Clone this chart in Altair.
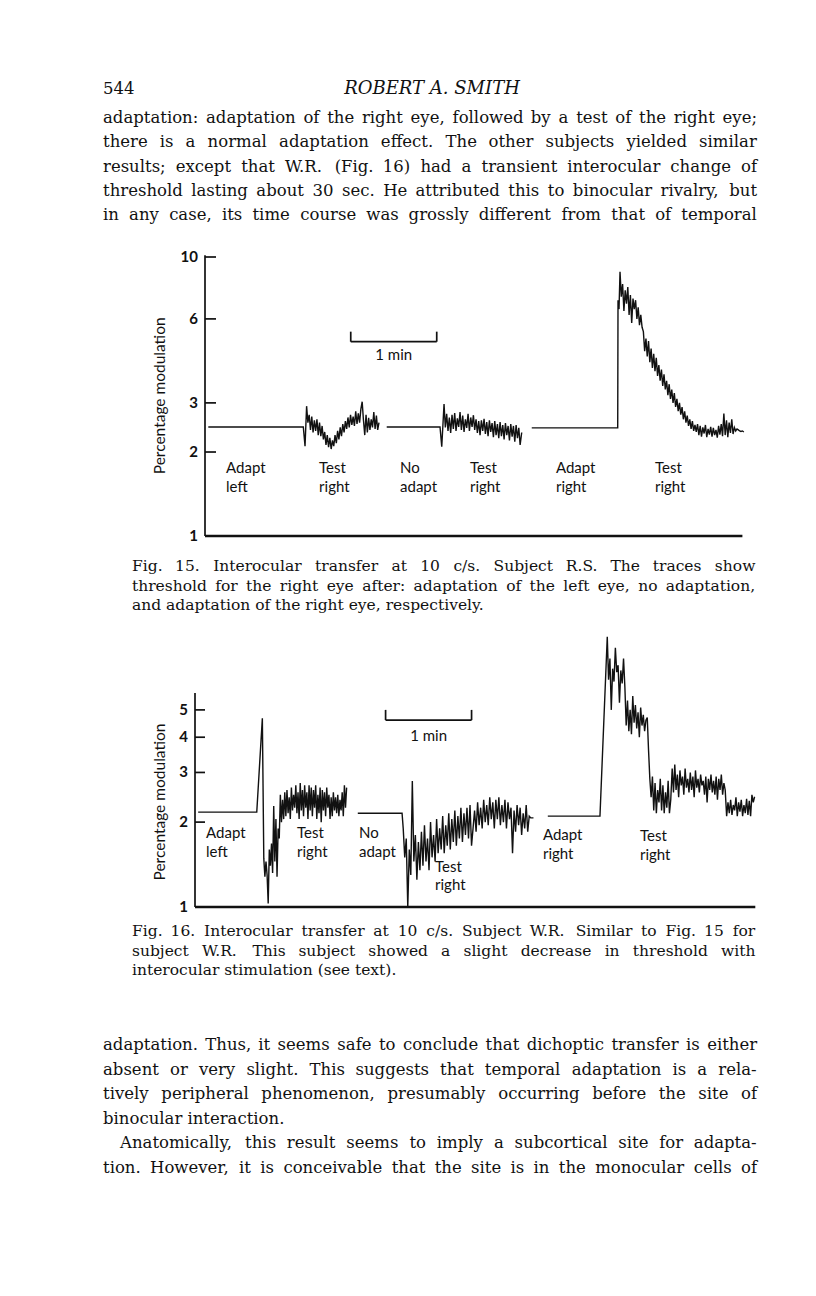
import altair as alt
import numpy as np
import pandas as pd

# ---------------- page text ----------------
PAGE_NUMBER = "544"
RUNNING_HEAD = "ROBERT A. SMITH"
TOP_LINES = [
    "adaptation: adaptation of the right eye, followed by a test of the right eye;",
    "there is a normal adaptation effect. The other subjects yielded similar",
    "results; except that W.R. (Fig. 16) had a transient interocular change of",
    "threshold lasting about 30 sec. He attributed this to binocular rivalry, but",
    "in any case, its time course was grossly different from that of temporal",
]
CAPTION_15 = [
    "Fig. 15. Interocular transfer at 10 c/s. Subject R.S. The traces show",
    "threshold for the right eye after: adaptation of the left eye, no adaptation,",
    "and adaptation of the right eye, respectively.",
]
CAPTION_16 = [
    "Fig. 16. Interocular transfer at 10 c/s. Subject W.R. Similar to Fig. 15 for",
    "subject W.R. This subject showed a slight decrease in threshold with",
    "interocular stimulation (see text).",
]
BOTTOM_LINES = [
    "adaptation. Thus, it seems safe to conclude that dichoptic transfer is either",
    "absent or very slight. This suggests that temporal adaptation is a rela-",
    "tively peripheral phenomenon, presumably occurring before the site of",
    "binocular interaction.",
]
PARA2_LINES = [
    "Anatomically, this result seems to imply a subcortical site for adapta-",
    "tion. However, it is conceivable that the site is in the monocular cells of",
]

Y_TITLE = "Percentage modulation"

# ---------------- Fig. 15 (subject R.S.) : time in s, threshold in % ----------------
F15_TICKS = [1, 2, 3, 6, 10]
F15_TICK_LABELS = ["1", "2", "3", "6", "10"]
F15_A_TEST = [2.55, 2.72, 2.40, 2.68, 2.35, 2.60, 2.38, 2.62, 2.30, 2.55, 2.28, 2.48, 2.22, 2.36,
              2.12, 2.30, 2.08, 2.25, 2.05, 2.20, 2.10, 2.30, 2.15, 2.38, 2.22, 2.45, 2.28, 2.52,
              2.35, 2.58, 2.42, 2.66, 2.45, 2.72, 2.50, 2.68, 2.48, 2.80, 2.52, 2.75, 2.55, 2.85,
              3.03, 2.60, 2.30, 2.72, 2.35, 2.65, 2.40, 2.62, 2.45, 2.78, 2.42, 2.70, 2.40, 2.55]
F15_B_TEST1 = [2.45, 2.74, 2.38, 2.66, 2.34, 2.72, 2.42, 2.76, 2.38, 2.64, 2.46, 2.78, 2.40,
               2.70, 2.36, 2.62, 2.44, 2.74, 2.38, 2.66, 2.46, 2.71]
F15_B_TEST2 = [2.40, 2.62, 2.34, 2.58, 2.30, 2.60, 2.38, 2.63, 2.32, 2.56, 2.28, 2.60, 2.36,
               2.54, 2.26, 2.58, 2.30, 2.52, 2.24, 2.56, 2.28, 2.50, 2.22, 2.54, 2.30, 2.48,
               2.20, 2.52, 2.27, 2.48, 2.18, 2.50, 2.24, 2.44, 2.12]
F15_C_PEAK = [7.2, 8.0, 6.4, 7.6, 6.8, 7.8, 6.2, 7.3, 5.8, 7.1, 6.5, 7.0, 6.0, 6.6, 5.7, 6.2, 5.6]
F15_C_DECAY = [5.4, 4.6, 5.1, 4.4, 5.0, 4.2, 4.7, 4.0, 4.5, 3.9, 4.35, 3.75, 4.1, 3.6, 3.95, 3.45,
               3.8, 3.35, 3.6, 3.2, 3.5, 3.1, 3.35, 3.0, 3.25, 2.9, 3.1, 2.8, 3.0, 2.72, 2.9, 2.62,
               2.8, 2.55, 2.7, 2.48, 2.62, 2.42, 2.58, 2.38, 2.5, 2.36]
F15_C_TAIL = [2.52, 2.30, 2.48, 2.27, 2.45, 2.33, 2.50, 2.26, 2.42, 2.31, 2.46, 2.27, 2.44, 2.30,
              2.40, 2.25, 2.48, 2.31, 2.52, 2.28, 2.75, 2.30, 2.60, 2.26, 2.55, 2.34, 2.62, 2.32,
              2.45, 2.38, 2.42, 2.40, 2.38, 2.37]
F15_PIECES = [
    [(2.3, 2.46), (68.6, 2.46), (69.8, 2.10), (70.9, 2.92), ("run", 71.8, 121.4, F15_A_TEST)],
    [(126.8, 2.46), (164.0, 2.46), (165.2, 2.09), (166.8, 2.97),
     ("run", 167.7, 187.3, F15_B_TEST1), ("run", 188.2, 219.9, F15_B_TEST2), (221.0, 2.35)],
    [(228.0, 2.44), (288.0, 2.44), (288.2, 7.0), (288.9, 6.5), (289.6, 8.86),
     ("run", 290.5, 305.0, F15_C_PEAK), ("run", 305.9, 342.8, F15_C_DECAY),
     ("run", 343.7, 374.0, F15_C_TAIL), (375.0, 2.38), (376.0, 2.36)],
]
F15_CONDITIONS = [("Adapt", "left", 14.7), ("Test", "right", 79.6), ("No", "adapt", 136.1),
                  ("Test", "right", 184.9), ("Adapt", "right", 244.9), ("Test", "right", 314.0)]
F15_LABEL_LEVELS = [1.753, 1.498]

# ---------------- Fig. 16 (subject W.R.) ----------------
F16_TICKS = [1, 2, 3, 4, 5]
F16_TICK_LABELS = ["1", "2", "3", "4", "5"]
F16_A_TEST = [1.49, 1.28, 1.45, 1.30, 1.03, 1.60, 1.40, 1.68, 1.32, 2.28, 1.45, 2.05, 1.28, 1.90,
              1.75, 2.50, 2.00, 2.40, 2.05, 2.55, 2.10, 2.60, 2.15, 2.45, 2.05, 2.65, 2.20, 2.50,
              2.25, 2.70, 2.15, 2.55, 2.05, 2.75, 2.20, 2.60, 2.10, 2.70, 2.25, 2.55, 2.05, 2.70,
              2.20, 2.65, 2.10, 2.60, 2.25, 2.70, 2.05, 2.50, 2.15, 2.65, 2.00, 2.60, 2.20, 2.55,
              2.10, 2.65, 2.25, 2.50, 2.05, 2.45, 2.10, 2.55, 2.20, 2.45, 2.15, 2.50, 2.10, 2.40,
              2.20, 2.55, 2.10, 2.70, 2.25, 2.65]
F16_B_TEST = [1.90, 1.50, 1.75, 1.00, 1.60, 1.30, 2.80, 1.45, 1.80, 1.25, 1.70, 1.35, 1.85, 1.40,
              1.95, 1.45, 1.75, 1.35, 2.00, 1.50, 1.80, 1.45, 2.05, 1.55, 1.90, 1.60, 2.10, 1.55,
              1.95, 1.65, 2.15, 1.60, 2.05, 1.70, 2.20, 1.65, 2.10, 1.75, 2.25, 1.70, 2.15, 1.80,
              2.25, 1.75, 2.30, 1.65, 1.90, 2.20, 1.85, 2.35, 1.95, 2.25, 1.90, 2.40, 2.00, 2.30,
              1.95, 2.45, 2.05, 2.35, 1.90, 2.40, 2.05, 2.45, 1.95, 2.30, 2.00, 2.40, 1.90, 2.35,
              2.05, 2.25, 1.55, 2.20, 1.85, 2.30, 1.95, 2.25, 1.80, 2.15, 1.90, 2.30, 1.85, 2.10, 2.07]
F16_C_PEAK = [6.4, 7.6, 5.0, 7.0, 6.3, 8.3, 6.8, 7.2, 5.3, 6.9, 6.2, 7.6, 6.0]
F16_C_MID = [4.4, 5.4, 4.2, 5.0, 4.1, 5.6, 4.5, 5.2, 4.3, 4.9, 4.0, 5.1, 4.4, 4.8, 4.2, 4.6, 4.7]
F16_C_LOW = [2.45, 2.90, 2.20, 2.75, 2.15, 2.60, 2.35, 2.85, 2.20, 2.70, 2.15, 2.55, 2.25, 2.80,
             2.15, 2.40]
F16_C_PLATEAU = [3.10, 2.55, 3.20, 2.60, 2.95, 2.45, 3.05, 2.70, 2.90, 2.50, 3.10, 2.65, 2.85,
                 2.55, 3.00, 2.60, 2.90, 2.45, 3.05, 2.65, 2.85, 2.55, 2.95, 2.70, 2.80, 2.50,
                 2.90, 2.35, 2.85, 2.60, 2.95, 2.55, 2.80, 2.50, 2.90, 2.40, 2.85, 2.60, 2.95,
                 2.50, 2.75, 2.60]
F16_C_END = [2.10, 2.35, 2.15, 2.40, 2.12, 2.30, 2.20, 2.45, 2.10, 2.35, 2.18, 2.40, 2.10, 2.30,
             2.15, 2.42, 2.12, 2.38, 2.10, 2.50, 2.35, 2.46]
F16_PIECES = [
    [(2.2, 2.17), (43.1, 2.17), (47.0, 4.67), ("run", 48.0, 105.8, F16_A_TEST)],
    [(113.6, 2.15), (144.5, 2.15), ("run", 145.3, 234.3, F16_B_TEST), (236.2, 2.07)],
    [(246.2, 2.10), (282.6, 2.10), (287.7, 9.09), ("run", 288.6, 300.0, F16_C_PEAK),
     ("run", 300.9, 315.6, F16_C_MID), (316.5, 3.6), (317.4, 2.85),
     ("run", 318.3, 332.0, F16_C_LOW), ("run", 333.0, 370.0, F16_C_PLATEAU),
     ("run", 371.0, 390.5, F16_C_END)],
]
F16_LABELS = [("Adapt", 7.7, 1.83), ("left", 7.7, 1.567), ("Test", 71.2, 1.83), ("right", 71.2, 1.567),
              ("No", 114.4, 1.83), ("adapt", 114.4, 1.567), ("Test", 167.5, 1.386),
              ("right", 167.5, 1.197), ("Adapt", 242.8, 1.80), ("right", 242.8, 1.54),
              ("Test", 310.5, 1.785), ("right", 310.5, 1.528)]


def build_trace(pieces):
    rows = []
    for p, items in enumerate(pieces):
        for it in items:
            if it[0] == "run":
                _, t0, t1, vals = it
                for t, v in zip(np.linspace(t0, t1, len(vals)), vals):
                    rows.append((p, t, v))
            else:
                rows.append((p, it[0], it[1]))
    df = pd.DataFrame(rows, columns=["piece", "t", "v"])
    df["i"] = range(len(df))
    return df


SERIF = "DejaVu Serif"
SANS = "Lato"

# approximate DejaVu Serif advance widths (1/2048 em), used only to justify lines
_W = {" ": 651, "a": 1221, "b": 1311, "c": 1147, "d": 1311, "e": 1212, "f": 743, "g": 1311,
      "h": 1315, "i": 655, "j": 637, "k": 1249, "l": 655, "m": 1970, "n": 1315, "o": 1233,
      "p": 1311, "q": 1311, "r": 977, "s": 1051, "t": 819, "u": 1315, "v": 1163, "w": 1704,
      "x": 1161, "y": 1163, "z": 1069, ".": 651, ",": 651, ":": 690, ";": 690, "(": 799,
      ")": 799, "-": 739, "/": 690, "'": 563}
_CAP = {"A": 1479, "F": 1300, "H": 1741, "I": 823, "R": 1500, "S": 1325, "T": 1300, "W": 2100}


def _width(word, size):
    tot = 0
    for ch in word:
        if ch.isdigit():
            tot += 1303
        elif ch in _CAP:
            tot += _CAP[ch]
        else:
            tot += _W.get(ch, 1200)
    return tot / 2048.0 * size


def justified(lines, x0, x1, y0, lh, size, last_justified=False, first_indent=0):
    rows = []
    for li, line in enumerate(lines):
        words = line.split(" ")
        left = x0 + (first_indent if li == 0 else 0)
        y = y0 + li * lh
        widths = [_width(w, size) for w in words]
        justify = (li < len(lines) - 1) or last_justified
        if justify and len(words) > 1:
            gap = (x1 - left - sum(widths)) / (len(words) - 1)
        else:
            gap = _width(" ", size)
        x = left
        for w, wd in zip(words, widths):
            rows.append({"x": x, "y": y, "w": w})
            x += wd + gap
    return rows


def text_chart(rows, size, italic=False, align="left"):
    return alt.Chart(pd.DataFrame(rows)).mark_text(
        font=SERIF, fontSize=size, align=align, baseline="alphabetic", color="#111",
        fontStyle="italic" if italic else "normal",
    ).encode(x=alt.X("x:Q", scale=None), y=alt.Y("y:Q", scale=None), text="w:N")


def figure(trace, xs, ys, t_end, y_top, ticks, tick_labels, tick_len, labels,
           bar, title_pos):
    X = lambda f: alt.X(f, scale=xs, axis=None)
    Y = lambda f: alt.Y(f, scale=ys, axis=None)
    line = alt.Chart(trace).mark_line(color="#111", strokeWidth=1.4).encode(
        x=X("t:Q"), y=Y("v:Q"), detail="piece:N", order="i:Q")
    yaxis = alt.Chart(pd.DataFrame({"t": [0], "v0": [1], "v1": [y_top]})).mark_rule(
        color="#111", strokeWidth=1.7).encode(x=X("t:Q"), y=Y("v0:Q"), y2="v1:Q")
    xaxis = alt.Chart(pd.DataFrame({"t0": [0], "t1": [t_end], "v": [1]})).mark_rule(
        color="#111", strokeWidth=2.3).encode(x=X("t0:Q"), x2="t1:Q", y=Y("v:Q"))
    tdf = pd.DataFrame({"t": [0] * len(ticks), "v": ticks, "lab": tick_labels})
    tk = alt.Chart(tdf).mark_rule(color="#111", strokeWidth=1.7, x2Offset=tick_len).encode(
        x=X("t:Q"), x2="t:Q", y=Y("v:Q"))
    tl = alt.Chart(tdf).mark_text(font=SANS, fontSize=15, fontWeight="bold", align="right",
                                  baseline="middle", dx=-7, color="#111").encode(
        x=X("t:Q"), y=Y("v:Q"), text="lab:N")
    ldf = pd.DataFrame(labels, columns=["txt", "t", "v"])
    lab = alt.Chart(ldf).mark_text(font=SANS, fontSize=15, align="left", baseline="middle",
                                   color="#111").encode(x=X("t:Q"), y=Y("v:Q"), text="txt:N")
    b0, b1, bv, btop, bt, btv = bar
    bar_h = alt.Chart(pd.DataFrame({"t0": [b0], "t1": [b1], "v": [bv]})).mark_rule(
        color="#111", strokeWidth=1.7).encode(x=X("t0:Q"), x2="t1:Q", y=Y("v:Q"))
    bar_e = alt.Chart(pd.DataFrame({"t": [b0, b1], "v0": [bv, bv], "v1": [btop, btop]})).mark_rule(
        color="#111", strokeWidth=1.7).encode(x=X("t:Q"), y=Y("v0:Q"), y2="v1:Q")
    bar_t = alt.Chart(pd.DataFrame({"t": [bt], "v": [btv], "txt": ["1 min"]})).mark_text(
        font=SANS, fontSize=15, align="center", baseline="middle", color="#111").encode(
        x=X("t:Q"), y=Y("v:Q"), text="txt:N")
    ttl = alt.Chart(pd.DataFrame({"t": [title_pos[0]], "v": [title_pos[1]], "txt": [Y_TITLE]})).mark_text(
        font=SANS, fontSize=15.5, angle=270, align="center", baseline="middle", color="#111").encode(
        x=X("t:Q"), y=Y("v:Q"), text="txt:N")
    return alt.layer(line, yaxis, xaxis, tk, tl, lab, bar_h, bar_e, bar_t, ttl)


f15_labels = []
for top_w, bottom_w, t in F15_CONDITIONS:
    f15_labels.append((top_w, t, F15_LABEL_LEVELS[0]))
    f15_labels.append((bottom_w, t, F15_LABEL_LEVELS[1]))

fig15 = figure(
    build_trace(F15_PIECES),
    alt.Scale(domain=[0, 375], range=[197, 734.4], nice=False, zero=False),
    alt.Scale(type="log", domain=[1, 10], range=[528, 249], nice=False),
    375, 10.15, F15_TICKS, F15_TICK_LABELS, 11, f15_labels,
    (101.7, 161.7, 4.97, 5.40, 131.7, 4.45), (-31.4, 3.18))

fig16 = figure(
    build_trace(F16_PIECES),
    alt.Scale(domain=[0, 391], range=[187, 747.3], nice=False, zero=False),
    alt.Scale(type="log", domain=[1, 10], range=[899, 617], nice=False),
    391, 5.74, F16_TICKS, F16_TICK_LABELS, 10, F16_LABELS,
    (133.0, 193.0, 4.60, 5.00, 163.0, 4.04), (-24.1, 2.356))

BODY = 16.5
CAP = 15.5
page_no = text_chart([{"x": 95, "y": 86, "w": PAGE_NUMBER}], 16.5)
head = text_chart([{"x": 424, "y": 86, "w": RUNNING_HEAD}], 18, italic=True, align="center")
top = text_chart(justified(TOP_LINES, 95, 749, 115, 24.3, BODY, last_justified=True), BODY)
cap15 = text_chart(justified(CAPTION_15, 124, 747, 563, 19.6, CAP), CAP)
cap16 = text_chart(justified(CAPTION_16, 124, 747, 928, 19.6, CAP), CAP)
bottom = text_chart(justified(BOTTOM_LINES, 95, 749, 1042, 24.5, BODY), BODY)
para2 = text_chart(justified(PARA2_LINES, 95, 749, 1140, 24.5, BODY, last_justified=True,
                             first_indent=17), BODY)

chart = alt.layer(page_no, head, top, cap15, cap16, bottom, para2, fig15, fig16).resolve_scale(
    x="independent", y="independent"
).properties(
    width=790, height=1270, padding=0, autosize="none", background="white"
).configure_view(stroke=None)

chart.save("out.html", embed_options={"renderer": "svg", "actions": False})
